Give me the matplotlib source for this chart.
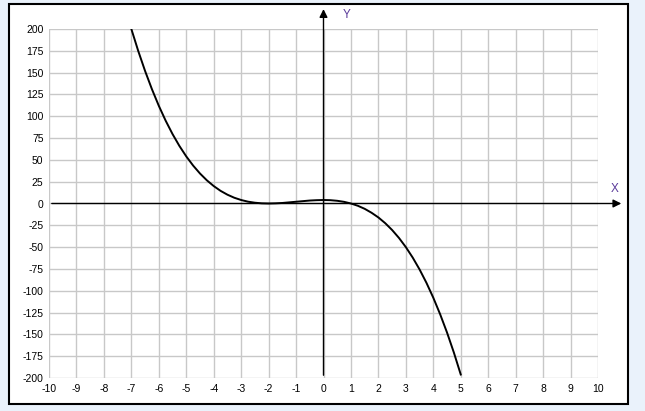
import matplotlib
matplotlib.use('Agg')
import matplotlib.pyplot as plt
from matplotlib.patches import Rectangle

# curve points
x_vals = [-7, -6.75, -6.5, -6.25, -6, -5.75, -5.5, -5.25, -5, -4.75, -4.5, -4.25,
          -4, -3.75, -3.5, -3.25, -3, -2.75, -2.5, -2.25, -2, -1.75, -1.5, -1.25,
          -1, -0.75, -0.5, -0.25, 0, 0.25, 0.5, 0.75, 1, 1.25, 1.5, 1.75,
          2, 2.25, 2.5, 2.75, 3, 3.25, 3.5, 3.75, 4, 4.25, 4.5, 4.75, 5]
y_vals = [200, 174.9, 151.9, 131.0, 112, 94.9, 79.6, 66.0, 54, 43.5, 34.4, 26.6,
          20, 14.5, 10.1, 6.6, 4, 2.1, 0.9, 0.2, 0, 0.2, 0.6, 1.3,
          2, 2.7, 3.4, 3.8, 4, 3.8, 3.1, 1.9, 0, -2.6, -6.1, -10.6,
          -16, -22.6, -30.4, -39.5, -50, -62.0, -75.6, -90.9, -108, -127.0, -147.9, -170.9, -196]

x_ticks = list(range(-10, 11))
y_ticks = list(range(-200, 201, 25))

W, H = 645, 411
fig = plt.figure(figsize=(W / 100, H / 100), dpi=100)
fig.patch.set_facecolor('#eaf2fb')

# white panel with black frame
fig.patches.append(Rectangle((8.5 / W, 1 - 403.5 / H), 619 / W, 399 / H,
                             transform=fig.transFigure, facecolor='white',
                             edgecolor='black', linewidth=1.5, zorder=0))

ax = fig.add_axes([49 / W, 1 - 378 / H, 549 / W, 349 / H])
ax.set_zorder(2)
ax.set_facecolor('none')
ax.set_xlim(-10, 10)
ax.set_ylim(-200, 200)
ax.set_xticks(x_ticks)
ax.set_yticks(y_ticks)
ax.grid(True, color='#c8c8c8', linewidth=1)
for s in ax.spines.values():
    s.set_visible(False)
ax.tick_params(length=0, labelsize=7.5, pad=4)
ax.set_xticklabels([str(t) for t in x_ticks], fontfamily='Liberation Sans')
ax.set_yticklabels([str(t) for t in y_ticks], fontfamily='Liberation Sans')

# axes with arrows
ax.annotate('', xy=(0, 226), xytext=(0, -200), annotation_clip=False,
            arrowprops=dict(arrowstyle='-|>', color='black', lw=1, mutation_scale=12))
ax.annotate('', xy=(10.95, 0), xytext=(-10, 0), annotation_clip=False,
            arrowprops=dict(arrowstyle='-|>', color='black', lw=1, mutation_scale=12))
ax.text(0.85, 216, 'Y', color='#5a3a9a', fontsize=8.5, fontfamily='Liberation Sans',
        ha='center', va='center', clip_on=False)
ax.text(10.6, 17, 'X', color='#5a3a9a', fontsize=8.5, fontfamily='Liberation Sans',
        ha='center', va='center', clip_on=False)

ax.plot(x_vals, y_vals, color='black', linewidth=1.4, zorder=5)

fig.savefig('out.png', dpi=100, facecolor=fig.get_facecolor())
